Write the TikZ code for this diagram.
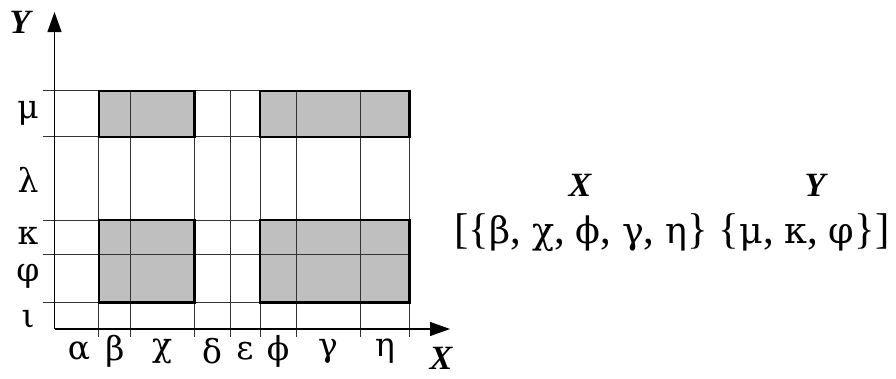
\documentclass[tikz,border=0pt]{standalone}
\usepackage{fontspec}
\setmainfont{Liberation Serif}
\newfontfamily\grk{DejaVu Serif}
\newcommand\sg[1]{{\grk\fontsize{36.5}{38}\selectfont #1}}
\usetikzlibrary{arrows.meta}
\begin{document}
\begin{tikzpicture}[x=1pt,y=-1pt,
  grid/.style={line width=0.9pt,draw=black!80},
  thick box/.style={line width=2.4pt},
  axis/.style={line width=1.2pt,-{Triangle[length=20pt,width=14pt]}},
  lab/.style={font=\grk\fontsize{33}{35}\selectfont,inner sep=0pt},
  setlab/.style={font=\fontsize{43}{45}\selectfont,inner sep=0pt},
  ax/.style={font=\fontsize{34}{36}\selectfont\bfseries\itshape,inner sep=0pt}]
\useasboundingbox (0,0) rectangle (896,378);
% shaded boxes
\fill[black!25] (98.7,90.7) rectangle (194.3,136.7);
\fill[black!25] (260,90.7) rectangle (409.3,136.7);
\fill[black!25] (98.7,220) rectangle (194.3,302.3);
\fill[black!25] (260,220) rectangle (409.3,302.3);
% horizontal grid
\foreach \y in {90.7,136.7,220,254,302.3} \draw[grid] (42.7,\y) -- (409.3,\y);
% vertical grid
\foreach \x in {98.7,130.7,194.3,230,260,296.7,360,409.3} \draw[grid] (\x,90.7) -- (\x,337);
% thick box borders
\draw[thick box] (98.7,90.7) rectangle (194.3,136.7);
\draw[thick box] (260,90.7) rectangle (409.3,136.7);
\draw[thick box] (98.7,220) rectangle (194.3,302.3);
\draw[thick box] (260,220) rectangle (409.3,302.3);
% axes
\coordinate (o) at (54.5,329);
\coordinate (ytip) at (54.5,12);
\coordinate (xtip) at (450,329);
\draw[axis] (o) -- (ytip);
\draw[axis] (o) -- (xtip);
\node[ax] (ylab) at (20,22) {Y};
\node[ax] (xlab) at (441,358) {X};
% row labels
\node[lab] (mu) at (28,113) {μ};
\node[lab] (la) at (28,180) {λ};
\node[lab] (ka) at (28,236) {κ};
\node[lab] (ph) at (28,276) {φ};
\node[lab] (io) at (28,320) {ι};
% column labels
\node[lab] (a) at (79,351) {α};
\node[lab] (b) at (115,351) {β};
\node[lab] (c) at (162,351) {χ};
\node[lab] (d) at (212,351) {δ};
\node[lab] (e) at (245,351) {ε};
\node[lab] (f) at (278,351) {ϕ};
\node[lab] (g) at (328,351) {γ};
\node[lab] (h) at (385,351) {η};
% right text
\node[ax] (X) at (580,185) {X};
\node[ax] (Y) at (815,185) {Y};
\node[setlab] (set) at (672,233) {[\{\sg{β}, \sg{χ}, \sg{ϕ}, \sg{γ}, \sg{η}\} \{\sg{μ}, \sg{κ}, \sg{φ}\}]};
\end{tikzpicture}
\end{document}
